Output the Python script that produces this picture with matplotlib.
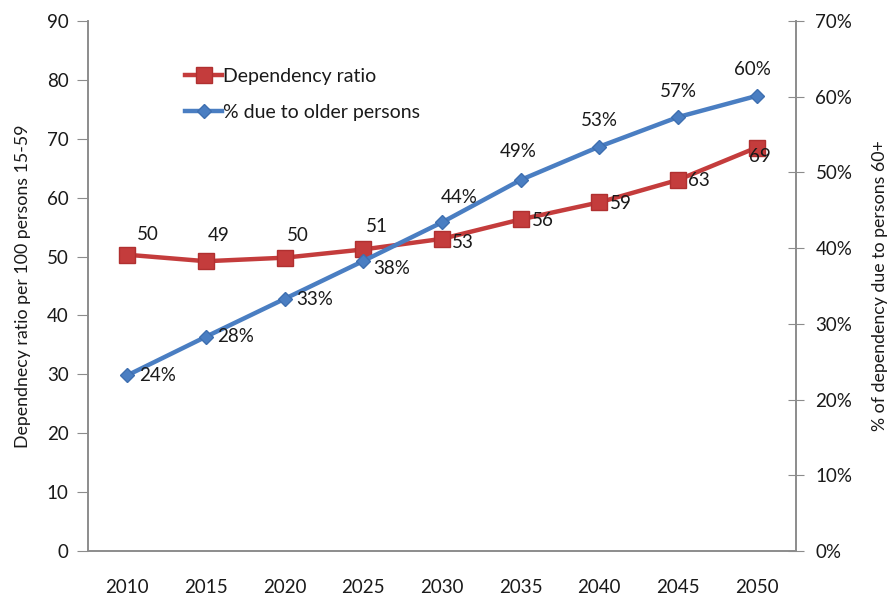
import matplotlib
matplotlib.use("Agg")
import matplotlib.pyplot as plt

plt.rcParams['font.family'] = ['Lato', 'DejaVu Sans']

years = ["2010", "2015", "2020", "2025", "2030", "2035", "2040", "2045", "2050"]
dependency_ratio = [50.3, 49.2, 49.8, 51.2, 53.0, 56.3, 59.2, 63.0, 68.5]
dependency_labels = ["50", "49", "50", "51", "53", "56", "59", "63", "69"]
older_share = [23.2, 28.3, 33.3, 38.3, 43.4, 49.0, 53.4, 57.3, 60.1]
older_labels = ["24%", "28%", "33%", "38%", "44%", "49%", "53%", "57%", "60%"]
left_ticks = [0, 10, 20, 30, 40, 50, 60, 70, 80, 90]
right_ticks = [0, 10, 20, 30, 40, 50, 60, 70]

red = "#C43C3C"
blue = "#4A7EC2"
axis_gray = "#8C8C8C"
text_col = "#1A1A1A"

fig = plt.figure(figsize=(8.95, 5.99), dpi=100)
ax = fig.add_axes([0.0983, 0.0801, 0.7911, 0.885])
ax2 = ax.twinx()

x = list(range(len(years)))

l1, = ax.plot(x, dependency_ratio, color=red, lw=3.2, marker="s", markersize=11,
              markeredgecolor="#B03030", label="Dependency ratio", zorder=3)
l2, = ax2.plot(x, older_share, color=blue, lw=3.2, marker="D", markersize=7.5,
               markeredgecolor="#3E6FB0", label="% due to older persons", zorder=3)

ax.set_xlim(-0.5, len(years) - 0.5)
ax.set_ylim(0, 90)
ax2.set_ylim(0, 70)
ax.set_xticks(x)
ax.set_xticklabels(years)
ax.set_yticks(left_ticks)
ax2.set_yticks(right_ticks)
ax2.set_yticklabels([f"{t}%" for t in right_ticks])

for a in (ax, ax2):
    a.spines['top'].set_visible(False)
    for s in ('left', 'right', 'bottom'):
        a.spines[s].set_color(axis_gray)
        a.spines[s].set_linewidth(1.2)
ax.tick_params(axis='y', direction='out', length=8, color=axis_gray, labelsize=13.5,
               labelcolor=text_col, pad=6)
ax.tick_params(axis='x', length=0, labelsize=13.5, labelcolor=text_col, pad=20)
ax2.tick_params(axis='y', direction='inout', length=12, color=axis_gray, labelsize=13.5,
                labelcolor=text_col, pad=8)

ax.set_ylabel("Dependnecy ratio per 100 persons 15-59", fontsize=12.8, color=text_col, labelpad=11)
ax2.set_ylabel("% of dependency due to persons 60+", fontsize=12.8, color=text_col, labelpad=14)

# data labels
red_offsets = [(21, 20), (13, 26), (13, 22), (14, 23), (21, -4), (22, -1), (21, -1), (21, -1), (3, -9)]
for xi, yi, lab, off in zip(x, dependency_ratio, dependency_labels, red_offsets):
    ax.annotate(lab, (xi, yi), xytext=off, textcoords='offset pixels',
                ha='center', va='center', fontsize=13.5, color=text_col, zorder=5)

blue_offsets = [(30, 0), (30, 0), (30, -1), (28, -8), (17, 25), (-2, 28), (0, 26), (0, 26), (-4, 26)]
for xi, yi, lab, off in zip(x, older_share, older_labels, blue_offsets):
    ax2.annotate(lab, (xi, yi), xytext=off, textcoords='offset pixels',
                 ha='center', va='center', fontsize=13.5, color=text_col, zorder=5)

leg = ax.legend([l1, l2], ["Dependency ratio", "% due to older persons"],
                loc='upper left', bbox_to_anchor=(0.113, 0.945), frameon=False,
                fontsize=14, handlelength=1.9, handletextpad=0.05, labelspacing=1.0)
for t in leg.get_texts():
    t.set_color(text_col)

fig.savefig("out.png", dpi=100, facecolor="white")
